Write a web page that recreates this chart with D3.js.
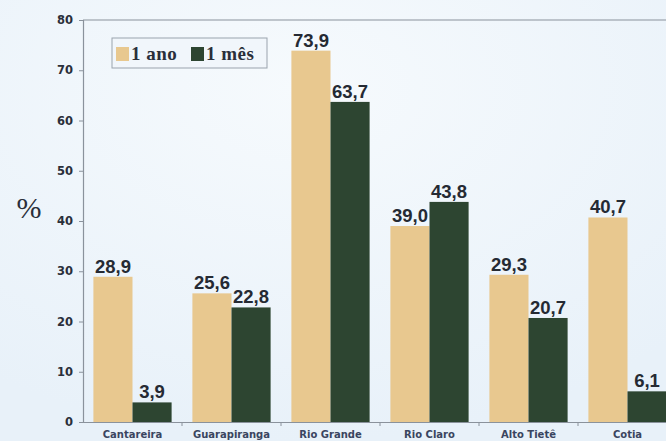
<!DOCTYPE html>
<html>
<head>
<meta charset="utf-8">
<script src="https://cdn.jsdelivr.net/npm/d3@7"></script>
<style>
	body { margin: 0; background: #eef5fb; }
	svg { display: block; }
</style>
</head>
<body>
<div id="chart"></div>
<script>
var categories = ["Cantareira", "Guarapiranga", "Rio Grande", "Rio Claro", "Alto Tietê", "Cotia"];
var seriesNames = ["1 ano", "1 mês"];
var anoValues = [28.9, 25.6, 73.9, 39.0, 29.3, 40.7];
var mesValues = [3.9, 22.8, 63.7, 43.8, 20.7, 6.1];
var yTicks = [0, 10, 20, 30, 40, 50, 60, 70, 80];
var colors = ["#e8c88f", "#2d4531"];

(function () {
	var width = 666, height = 441;
	var left = 83, top = 20, bottom = 422;
	var step = 99;

	var svg = d3.select("#chart").append("svg")
		.attr("width", width)
		.attr("height", height);

	// background with soft light patches like the photo
	var defs = svg.append("defs");
	var grad = defs.append("radialGradient").attr("id", "bg")
		.attr("cx", "45%").attr("cy", "20%").attr("r", "80%");
	grad.append("stop").attr("offset", "0%").attr("stop-color", "#f6fafd");
	grad.append("stop").attr("offset", "100%").attr("stop-color", "#e8f1f9");
	svg.append("rect").attr("width", width).attr("height", height).attr("fill", "url(#bg)");

	var x0 = d3.scaleBand()
		.domain(categories)
		.range([left, left + step * categories.length])
		.paddingInner(0.21)
		.paddingOuter(0.105);

	var x1 = d3.scaleBand()
		.domain(seriesNames)
		.range([0, x0.bandwidth()]);

	var y = d3.scaleLinear()
		.domain([0, 80])
		.range([bottom, top]);

	var data = categories.map(function (c, i) {
		return { cat: c, values: [anoValues[i], mesValues[i]] };
	});

	// top frame line
	svg.append("line")
		.attr("x1", left).attr("x2", width)
		.attr("y1", y(80)).attr("y2", y(80))
		.attr("stroke", "#8a929c").attr("stroke-width", 1.2);

	// bars
	var groups = svg.append("g").selectAll("g")
		.data(data)
		.enter().append("g")
		.attr("transform", function (d) { return "translate(" + x0(d.cat) + ",0)"; });

	groups.selectAll("rect")
		.data(function (d) { return d.values; })
		.enter().append("rect")
		.attr("x", function (d, i) { return x1(seriesNames[i]); })
		.attr("y", function (d) { return y(d); })
		.attr("width", x1.bandwidth())
		.attr("height", function (d) { return y(0) - y(d); })
		.attr("fill", function (d, i) { return colors[i]; });

	groups.selectAll("text")
		.data(function (d) { return d.values; })
		.enter().append("text")
		.attr("x", function (d, i) { return x1(seriesNames[i]) + x1.bandwidth() / 2; })
		.attr("y", function (d) { return y(d) - 4; })
		.attr("text-anchor", "middle")
		.attr("font-family", "Liberation Sans, Arial, sans-serif")
		.attr("font-weight", "bold")
		.attr("font-size", "18.5px")
		.attr("fill", "#252a33")
		.text(function (d) { return d3.format(".1f")(d).replace(".", ","); });

	// y axis
	var yAxis = svg.append("g")
		.attr("transform", "translate(" + left + ",0)")
		.call(d3.axisLeft(y).tickValues(yTicks).tickSize(4).tickPadding(6));
	yAxis.select(".domain").attr("stroke", "#8a929c").attr("stroke-width", 1.2);
	yAxis.selectAll(".tick line").attr("stroke", "#8a929c");
	yAxis.selectAll("text")
		.attr("font-family", "DejaVu Sans, sans-serif")
		.attr("font-weight", "bold")
		.attr("font-size", "11.5px")
		.attr("fill", "#2a2f3a");

	// x axis
	var xAxis = svg.append("g")
		.attr("transform", "translate(0," + bottom + ")")
		.call(d3.axisBottom(x0).tickSize(0).tickPadding(9));
	xAxis.select(".domain").attr("stroke", "#8a929c").attr("stroke-width", 1.2);
	xAxis.selectAll("text")
		.attr("font-family", "DejaVu Sans, sans-serif")
		.attr("font-weight", "bold")
		.attr("font-size", "10px")
		.attr("fill", "#3a4560");

	// separator ticks between groups
	svg.append("g").selectAll("line")
		.data(categories.slice(1))
		.enter().append("line")
		.attr("x1", function (d) { return x0(d) - x0.step() * x0.paddingInner() / 2; })
		.attr("x2", function (d) { return x0(d) - x0.step() * x0.paddingInner() / 2; })
		.attr("y1", bottom).attr("y2", bottom + 4)
		.attr("stroke", "#8a929c");

	// % label
	svg.append("text")
		.attr("x", 29).attr("y", 218)
		.attr("text-anchor", "middle")
		.attr("font-family", "Liberation Serif, serif")
		.attr("font-size", "30px")
		.attr("fill", "#2a2f3a")
		.text("%");

	// legend
	var legend = svg.append("g").attr("transform", "translate(112,38)");
	legend.append("rect")
		.attr("width", 155).attr("height", 30)
		.attr("fill", "#f1f6fb")
		.attr("stroke", "#9aa3ad");
	var items = legend.selectAll("g.item")
		.data(seriesNames)
		.enter().append("g")
		.attr("class", "item")
		.attr("transform", function (d, i) { return "translate(" + (4 + i * 75) + ",0)"; });
	items.append("rect")
		.attr("y", 9).attr("width", 13).attr("height", 14)
		.attr("fill", function (d, i) { return colors[i]; });
	items.append("text")
		.attr("x", 15).attr("y", 22)
		.attr("font-family", "Liberation Serif, serif")
		.attr("font-weight", "bold")
		.attr("font-size", "19px")
		.attr("letter-spacing", "0.5px")
		.attr("fill", "#2a2f3a")
		.text(function (d) { return d; });
})();
</script>
</body>
</html>
